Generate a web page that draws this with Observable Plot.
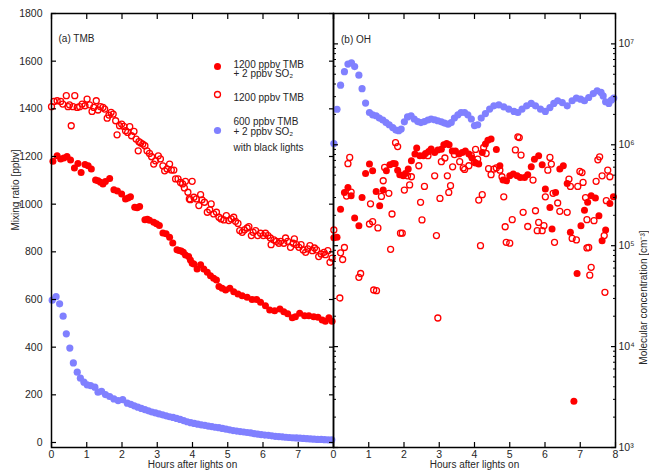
<!DOCTYPE html>
<html><head><meta charset="utf-8">
<script src="https://cdn.jsdelivr.net/npm/d3@7"></script>
<script src="https://cdn.jsdelivr.net/npm/@observablehq/plot@0.6"></script>
<style>
body{margin:0;background:#fff;}
#wrap{position:relative;width:649px;height:472px;overflow:hidden;background:#fff;}
#wrap svg{position:absolute;top:0;}
</style></head><body><div id="wrap"></div>
<script>
// ---------- (a) TMB mixing ratio [ppbv] ----------
const tmbSO2Hours = [0.04,0.16,0.26,0.35,0.44,0.54,0.65,0.75,0.84,0.95,1.04,1.13,1.25,1.32,1.39,1.46,1.53,1.65,1.77,1.87,1.99,2.10,2.17,2.24,2.36,2.43,2.50,2.65,2.72,2.78,2.90,2.98,3.06,3.16,3.25,3.35,3.44,3.56,3.62,3.68,3.74,3.80,3.89,3.94,3.99,4.04,4.13,4.23,4.32,4.42,4.51,4.60,4.68,4.75,4.84,4.94,5.06,5.17,5.29,5.41,5.55,5.69,5.82,5.93,6.07,6.19,6.33,6.48,6.59,6.70,6.83,6.92,7.04,7.18,7.30,7.44,7.56,7.68,7.77,7.87,7.96];
const tmbSO2Values = [1180,1203,1190,1194,1200,1185,1152,1171,1133,1166,1161,1148,1101,1098,1092,1085,1095,1108,1060,1055,1043,1022,1026,1031,987,985,990,935,937,933,924,918,910,879,876,861,837,809,806,804,798,787,780,766,752,749,728,746,728,714,700,689,682,655,647,640,647,633,623,616,609,600,600,588,574,556,553,560,549,540,523,528,542,532,532,528,525,514,509,523,509];

const tmbHours = [0.00,0.07,0.16,0.26,0.32,0.42,0.47,0.51,0.56,0.61,0.66,0.73,0.80,0.87,0.95,1.01,1.08,1.15,1.20,1.27,1.32,1.39,1.46,1.51,1.58,1.63,1.69,1.75,1.82,1.86,1.93,1.99,2.05,2.10,2.16,2.22,2.27,2.34,2.40,2.46,2.48,2.53,2.59,2.65,2.71,2.78,2.84,2.90,2.95,3.03,3.09,3.16,3.21,3.28,3.35,3.40,3.47,3.52,3.59,3.66,3.72,3.77,3.80,3.87,3.91,3.94,3.99,4.04,4.11,4.18,4.23,4.27,4.34,4.42,4.49,4.53,4.60,4.68,4.75,4.81,4.89,4.96,5.03,5.10,5.17,5.22,5.29,5.34,5.41,5.47,5.55,5.60,5.67,5.72,5.79,5.85,5.93,6.01,6.07,6.14,6.21,6.23,6.31,6.38,6.45,6.50,6.59,6.64,6.70,6.78,6.86,6.89,6.95,7.02,7.08,7.14,7.21,7.27,7.33,7.40,7.46,7.52,7.58,7.65,7.73,7.77,7.84,7.90,7.96];
const tmbValues = [1409,1431,1434,1431,1420,1455,1409,1417,1329,1409,1455,1406,1409,1420,1413,1441,1417,1389,1406,1434,1395,1409,1406,1399,1361,1374,1385,1378,1350,1291,1329,1336,1326,1308,1301,1325,1287,1305,1273,1224,1262,1257,1252,1245,1224,1213,1199,1168,1182,1203,1190,1161,1140,1148,1168,1143,1143,1106,1106,1091,1085,1068,1096,1050,1022,1019,1096,1029,1022,994,1040,1018,1008,966,976,1001,959,966,945,938,934,952,931,938,945,928,919,889,882,892,900,906,868,882,889,868,878,868,878,868,858,830,850,844,836,844,836,858,844,819,836,854,830,819,830,808,798,812,826,805,816,808,780,791,798,788,805,756,774];

const tmb600Hours = [0.02,0.13,0.23,0.33,0.42,0.52,0.62,0.73,0.82,0.92,1.01,1.11,1.23,1.32,1.42,1.53,1.65,1.77,1.89,2.02,2.15,2.25,2.35,2.45,2.55,2.65,2.75,2.85,2.95,3.05,3.15,3.25,3.35,3.45,3.55,3.65,3.75,3.85,3.95,4.05,4.15,4.25,4.35,4.45,4.55,4.65,4.75,4.85,4.95,5.05,5.15,5.25,5.35,5.45,5.55,5.65,5.75,5.85,5.95,6.05,6.15,6.25,6.35,6.45,6.55,6.65,6.75,6.85,6.95,7.05,7.15,7.25,7.35,7.45,7.55,7.65,7.75,7.85,7.95];
const tmb600Values = [597,612,582,530,456,396,334,295,270,253,242,239,232,211,215,201,193,183,176,180,165,160,154,148,143,138,133,128,124,120,116,112,108,105,101,97,92,87,83,80,77,74,72,69,67,64,62,59,56,53,50,48,46,44,42,40,37,35,33,31,30,28,26,25,24,22,21,20,19,18,17,16,15,14,13,13,12,11,11];

// ---------- (b) OH molecular concentration [cm^-3] ----------
const ohSO2Hours = [0.01,0.10,0.20,0.31,0.41,0.50,0.60,0.72,0.81,0.91,1.02,1.11,1.21,1.31,1.41,1.50,1.60,1.69,1.75,1.82,1.88,1.98,2.04,2.12,2.21,2.31,2.36,2.45,2.55,2.61,2.70,2.77,2.87,2.96,3.06,3.13,3.21,3.28,3.37,3.46,3.56,3.65,3.74,3.84,3.93,4.03,4.12,4.22,4.31,4.38,4.47,4.62,4.72,4.81,4.91,5.00,5.10,5.21,5.30,5.42,5.51,5.61,5.70,5.82,5.92,6.01,6.14,6.20,6.30,6.42,6.52,6.63,6.72,6.82,6.91,7.02,7.12,7.21,7.31,7.43,7.53,7.62,7.72,7.84,7.94];
const ohSO2Values = [1.2e5,1.21e5,2.3e5,3.37e5,3.78e5,3.13e5,1.88e5,1.58e5,3.0e5,5.2e5,6.44e5,5.53e5,3.45e5,2.49e5,3.56e5,5.53e5,6.34e5,6.53e5,6.5e5,5.6e5,5.05e5,4.93e5,5.2e5,5.74e5,6.95e5,8.1e5,9.3e5,7.8e5,7.8e5,8.2e5,8.6e5,9.1e5,8.4e5,8.9e5,9.05e5,1.0e6,1.03e6,1.0e6,8.7e5,8.7e5,8.1e5,8.4e5,8.7e5,8.1e5,7.4e5,6.6e5,6.44e5,8.4e5,1.02e6,1.11e6,1.14e6,9.0e5,6.2e5,4.47e5,4.4e5,4.93e5,5.13e5,4.93e5,4.74e5,4.74e5,5.05e5,6.05e5,7.2e5,7.8e5,6.34e5,3.64e5,2.39e5,1.46e5,3.37e5,5.74e5,6.2e5,4.14e5,1.36e5,2.87e3,5.3e4,1.58e5,2.25e5,2.69e5,3.13e5,2.97e5,1.98e5,1.12e5,1.43e5,2.62e5,3.06e5];

const ohHours = [0.01,0.18,0.20,0.26,0.31,0.37,0.41,0.46,0.50,0.72,0.77,1.02,1.05,1.11,1.14,1.22,1.26,1.36,1.41,1.45,1.57,1.62,1.66,1.76,1.82,1.90,1.95,2.01,2.10,2.16,2.21,2.42,2.47,2.51,2.58,2.68,2.87,2.92,2.96,3.02,3.06,3.16,3.23,3.27,3.32,3.38,3.43,3.58,3.68,3.72,3.84,3.91,4.00,4.03,4.09,4.12,4.17,4.22,4.26,4.33,4.40,4.47,4.55,4.62,4.72,4.78,4.83,4.87,4.90,5.00,5.07,5.16,5.23,5.27,5.32,5.38,5.51,5.66,5.73,5.78,5.82,5.92,5.97,6.01,6.08,6.14,6.18,6.23,6.27,6.36,6.42,6.63,6.68,6.72,6.77,6.89,6.93,6.99,7.05,7.08,7.15,7.19,7.19,7.24,7.27,7.31,7.39,7.45,7.50,7.55,7.62,7.68,7.70,7.74,7.78,7.84];
const ohValues = [1.43e5,3.03e4,8.5e4,7.3e4,9.6e4,3.1e5,6.5e5,7.5e5,3.4e5,4.86e4,5.3e4,1.64e5,2.6e5,1.73e5,3.64e4,3.58e4,1.5e5,3.08e5,4.4e5,5.96e5,3.3e5,9.2e4,2.06e5,1.05e6,9.6e5,1.33e5,1.33e5,3.56e5,4.93e5,4.0e5,4.82e5,6.2e5,2.69e5,1.8e5,3.87e5,7.8e5,4.93e5,1.26e5,1.92e4,2.94e5,6.8e5,7.4e5,4.93e5,3.37e5,3.93e5,6.05e5,8.0e5,6.8e5,5.9e5,5.7e5,6.2e5,7.8e5,6.7e5,9.0e5,7.2e5,2.83e5,1.0e5,3.2e5,9.4e5,8.2e5,5.8e5,5.05e5,5.74e5,5.9e5,5.6e5,4.82e5,3.05e5,1.54e5,1.08e5,1.06e5,1.81e5,8.9e5,1.2e6,1.18e6,7.9e5,2.14e5,1.55e5,4.47e5,2.22e5,1.41e5,1.7e5,1.41e5,1.58e5,3.05e5,5.6e5,7.5e5,6.44e5,3.3e5,1.08e5,2.65e5,2.19e5,2.14e5,4.57e5,3.87e5,1.18e5,1.14e5,3.87e5,5.45e5,5.3e5,4.24e5,3.0e5,1.81e5,9.5e4,9.6e4,5.1e4,6.1e4,1.77e5,4.34e5,7.1e5,7.6e5,4.93e5,1.26e5,3.45e4,2.79e5,5.6e5,4.82e5];

const oh600Hours = [0.01,0.10,0.20,0.31,0.41,0.51,0.60,0.72,0.81,0.91,1.02,1.11,1.21,1.30,1.40,1.49,1.58,1.68,1.77,1.85,1.92,2.01,2.10,2.20,2.29,2.39,2.48,2.58,2.68,2.77,2.87,2.96,3.06,3.15,3.25,3.34,3.43,3.53,3.62,3.72,3.81,3.91,4.00,4.09,4.19,4.31,4.43,4.55,4.69,4.83,4.97,5.12,5.23,5.35,5.48,5.61,5.73,5.87,6.01,6.14,6.25,6.36,6.49,6.63,6.77,6.89,7.01,7.12,7.24,7.37,7.48,7.59,7.65,7.72,7.81,7.88,7.95];
const oh600Values = [1.03e6,2.25e6,3.9e6,5.3e6,6.3e6,6.5e6,5.96e6,4.9e6,3.6e6,2.59e6,2.09e6,1.98e6,1.94e6,1.84e6,1.76e6,1.66e6,1.58e6,1.48e6,1.40e6,1.38e6,1.43e6,1.69e6,1.89e6,1.94e6,1.80e6,1.70e6,1.66e6,1.70e6,1.76e6,1.80e6,1.77e6,1.73e6,1.69e6,1.64e6,1.60e6,1.66e6,1.84e6,1.98e6,2.09e6,2.09e6,1.98e6,1.80e6,1.55e6,1.58e6,1.84e6,2.04e6,2.26e6,2.43e6,2.49e6,2.38e6,2.26e6,2.14e6,2.09e6,2.26e6,2.43e6,2.57e6,2.43e6,2.26e6,2.14e6,2.34e6,2.57e6,2.73e6,2.62e6,2.43e6,2.73e6,2.90e6,2.83e6,2.73e6,2.94e6,3.22e6,3.43e6,3.30e6,3.05e6,2.67e6,2.57e6,2.77e6,2.90e6];

// ---------- ticks & labels ----------
const hourTicks = [0,1,2,3,4,5,6,7,8];
const mixTicks = [0,200,400,600,800,1000,1200,1400,1600,1800];
const ohMajorTicks = [1e3,1e4,1e5,1e6,1e7];
const legendLabels = ["1200 ppbv TMB","+ 2 ppbv SO\u2082","1200 ppbv TMB","600 ppbv TMB","+ 2 ppbv SO\u2082","with black lights"];

const ohMinorTicks = [];
for (const m of [1e3,1e4,1e5,1e6,1e7]) for (let k = 2; k <= 9; k++) if (m*k <= 2e7) ohMinorTicks.push(m*k);

const zip = (h, v) => h.map((x, i) => ({h: x, v: v[i]}));
const sup = {"3":"\u00b3","4":"\u2074","5":"\u2075","6":"\u2076","7":"\u2077"};
const TXT = "#262626";
const RED = "#ff0000", BLUE = "#8080ff";
const style = "background:transparent;font-family:'Liberation Sans',Arial,Helvetica,sans-serif;font-size:10px;color:black;overflow:visible;";

const left = Plot.plot({
  width: 334, height: 472,
  marginLeft: 51, marginRight: 1, marginTop: 13, marginBottom: 25,
  style,
  x: {domain: [0, 8], axis: null},
  y: {domain: [-21, 1800], axis: null},
  marks: [
    Plot.dot(zip(tmb600Hours, tmb600Values), {x: "h", y: "v", r: 3.6, fill: BLUE}),
    Plot.dot(zip(tmbSO2Hours, tmbSO2Values), {x: "h", y: "v", r: 3.5, fill: RED}),
    Plot.dot(zip(tmbHours, tmbValues), {x: "h", y: "v", r: 3, fill: "none", stroke: RED, strokeWidth: 1.3}),
    Plot.frame({stroke: "black", strokeWidth: 1.5}),
    Plot.axisY({ticks: mixTicks, anchor: "left", tickSize: -5, tickFormat: () => "", label: null, strokeWidth: 1.2}),
    Plot.axisY({ticks: mixTicks, anchor: "right", tickSize: -5, tickFormat: () => "", label: null, strokeWidth: 1.2}),
    Plot.axisX({ticks: hourTicks, anchor: "bottom", tickSize: -5, tickFormat: () => "", label: null, strokeWidth: 1.2}),
    Plot.axisX({ticks: hourTicks, anchor: "top", tickSize: -5, tickFormat: () => "", label: null, strokeWidth: 1.2}),
    Plot.axisY({ticks: mixTicks, anchor: "left", tickSize: 0, tickPadding: 9, label: null, fill: TXT, fontSize: 10.5, tickFormat: d => String(d)}),
    Plot.axisX({ticks: hourTicks.slice(0, 8), anchor: "bottom", tickSize: 0, tickPadding: 3, label: null, fill: TXT, fontSize: 10.5, tickFormat: d => String(d)}),
    Plot.text(["Hours after lights on"], {frameAnchor: "bottom", dy: 20, fill: TXT}),
    Plot.text(["Mixing ratio [ppbv]"], {frameAnchor: "left", dx: -36, rotate: -90, fill: TXT}),
    Plot.text(["(a) TMB"], {frameAnchor: "top-left", dx: 7, dy: 21, textAnchor: "start", fill: TXT}),
    // legend
    Plot.dot([0], {frameAnchor: "top-left", dx: 166, dy: 53, r: 3.5, fill: RED}),
    Plot.dot([0], {frameAnchor: "top-left", dx: 166, dy: 81, r: 3, fill: "none", stroke: RED, strokeWidth: 1.3}),
    Plot.dot([0], {frameAnchor: "top-left", dx: 166, dy: 117, r: 3.6, fill: BLUE}),
    Plot.text([legendLabels[0]], {frameAnchor: "top-left", dx: 182, dy: 47, textAnchor: "start", fill: TXT}),
    Plot.text([legendLabels[1]], {frameAnchor: "top-left", dx: 182, dy: 56.5, textAnchor: "start", fill: TXT}),
    Plot.text([legendLabels[2]], {frameAnchor: "top-left", dx: 182, dy: 80.5, textAnchor: "start", fill: TXT}),
    Plot.text([legendLabels[3]], {frameAnchor: "top-left", dx: 182, dy: 104.5, textAnchor: "start", fill: TXT}),
    Plot.text([legendLabels[4]], {frameAnchor: "top-left", dx: 182, dy: 114.5, textAnchor: "start", fill: TXT}),
    Plot.text([legendLabels[5]], {frameAnchor: "top-left", dx: 182, dy: 130, textAnchor: "start", fill: TXT})
  ]
});
left.style.left = "0px";

const right = Plot.plot({
  width: 317, height: 472,
  marginLeft: 1, marginRight: 34, marginTop: 13, marginBottom: 25,
  style,
  x: {domain: [0, 8], axis: null},
  y: {type: "log", domain: [1e3, 2e7], axis: null},
  marks: [
    Plot.dot(zip(oh600Hours, oh600Values), {x: "h", y: "v", r: 3.6, fill: BLUE}),
    Plot.dot(zip(ohSO2Hours, ohSO2Values), {x: "h", y: "v", r: 3.5, fill: RED}),
    Plot.dot(zip(ohHours, ohValues), {x: "h", y: "v", r: 3, fill: "none", stroke: RED, strokeWidth: 1.3}),
    Plot.frame({stroke: "black", strokeWidth: 1.5}),
    Plot.axisY({ticks: ohMajorTicks, anchor: "left", tickSize: -5, tickFormat: () => "", label: null, strokeWidth: 1.2}),
    Plot.axisY({ticks: ohMajorTicks, anchor: "right", tickSize: -5, tickFormat: () => "", label: null, strokeWidth: 1.2}),
    Plot.axisY({ticks: ohMinorTicks, anchor: "left", tickSize: -3, tickFormat: () => "", label: null, strokeWidth: 1}),
    Plot.axisY({ticks: ohMinorTicks, anchor: "right", tickSize: -3, tickFormat: () => "", label: null, strokeWidth: 1}),
    Plot.axisX({ticks: hourTicks, anchor: "bottom", tickSize: -5, tickFormat: () => "", label: null, strokeWidth: 1.2}),
    Plot.axisX({ticks: hourTicks, anchor: "top", tickSize: -5, tickFormat: () => "", label: null, strokeWidth: 1.2}),
    Plot.axisY({ticks: ohMajorTicks, anchor: "right", tickSize: 0, tickPadding: 3, label: null, fill: TXT, fontSize: 10.5,
      tickFormat: d => "10" + sup[String(Math.round(Math.log10(d)))]}),
    Plot.axisX({ticks: hourTicks, anchor: "bottom", tickSize: 0, tickPadding: 3, label: null, fill: TXT, fontSize: 10.5, tickFormat: d => String(d)}),
    Plot.text(["Hours after lights on"], {frameAnchor: "bottom", dy: 20, fill: TXT}),
    Plot.text(["Molecular concentration [cm\u207b\u00b3]"], {frameAnchor: "right", dx: 28, rotate: -90, fill: TXT}),
    Plot.text(["(b) OH"], {frameAnchor: "top-left", dx: 7.5, dy: 22, textAnchor: "start", fill: TXT})
  ]
});
right.style.left = "332px";

const wrap = document.getElementById("wrap");
wrap.appendChild(left);
wrap.appendChild(right);
</script>
</body></html>
